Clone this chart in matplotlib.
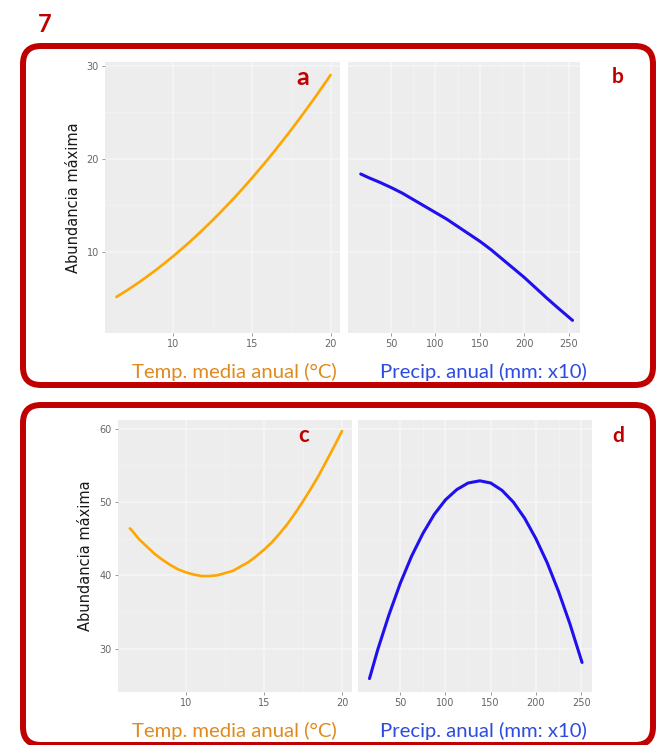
import numpy as np
import matplotlib.pyplot as plt
from matplotlib.patches import FancyBboxPatch

# Curvas ajustadas: abundancia máxima vs. temperatura y precipitación
temp_a = [6.4, 6.5, 7, 7.5, 8, 8.5, 9, 9.5, 10, 10.5, 11, 11.5, 12, 12.5, 13, 13.5,
          14, 14.5, 15, 15.5, 16, 16.5, 17, 17.5, 18, 18.5, 19, 19.5, 20]
abund_a = [5.12, 5.23, 5.76, 6.31, 6.90, 7.51, 8.14, 8.81, 9.50, 10.22, 10.96, 11.74,
           12.54, 13.36, 14.22, 15.10, 16.00, 16.94, 17.90, 18.89, 19.90, 20.95, 22.02,
           23.11, 24.24, 25.39, 26.56, 27.77, 29.0]

precip_b = [16, 25, 37.5, 50, 62.5, 75, 87.5, 100, 112.5, 125, 137.5, 150, 162.5,
            175, 187.5, 200, 212.5, 225, 237.5, 254]
abund_b = [18.35, 17.95, 17.45, 16.9, 16.3, 15.6, 14.9, 14.2, 13.5, 12.7, 11.9, 11.1,
           10.2, 9.2, 8.2, 7.2, 6.1, 5.0, 3.95, 2.6]

temp_c = [6.4, 6.5, 7, 7.5, 8, 8.5, 9, 9.5, 10, 10.5, 11, 11.5, 12, 12.5, 13, 13.5,
          14, 14.5, 15, 15.5, 16, 16.5, 17, 17.5, 18, 18.5, 19, 19.5, 20]
abund_c = [46.4, 46.2, 44.9, 43.9, 42.9, 42.1, 41.4, 40.8, 40.4, 40.1, 39.9, 39.9,
           40.0, 40.3, 40.6, 41.2, 41.8, 42.6, 43.5, 44.5, 45.7, 47.0, 48.5, 50.1,
           51.8, 53.6, 55.6, 57.6, 59.7]

precip_d = [16, 25, 37.5, 50, 62.5, 75, 87.5, 100, 112.5, 125, 138, 150, 162.5,
            175, 187.5, 200, 212.5, 225, 237.5, 251]
abund_d = [25.9, 29.8, 34.6, 38.9, 42.6, 45.7, 48.3, 50.3, 51.7, 52.6, 52.9, 52.6,
           51.6, 50.0, 47.8, 45.0, 41.7, 37.8, 33.4, 28.1]

ticks_temp = [10, 15, 20]
ticks_precip = [50, 100, 150, 200, 250]

ROJO = '#C00000'
NARANJA = '#E08A1E'
AZUL = '#2E4BE0'

W, H = 665, 745
fig = plt.figure(figsize=(W / 100, H / 100), dpi=100)


def panel(left, top, right, bottom):
    return fig.add_axes([left / W, 1 - bottom / H, (right - left) / W, (bottom - top) / H])


def estilo(ax, xlim, ylim, xticks, yticks, etiquetas_y=True):
    ax.set_facecolor('#EDEDED')
    for s in ax.spines.values():
        s.set_visible(False)
    ax.set_xlim(xlim)
    ax.set_ylim(ylim)
    ax.set_xticks(xticks)
    ax.set_yticks(yticks)
    ax.set_xticks([(a + b) / 2 for a, b in zip(xticks[:-1], xticks[1:])], minor=True)
    ax.set_yticks([(a + b) / 2 for a, b in zip(yticks[:-1], yticks[1:])], minor=True)
    ax.grid(True, which='major', color='white', lw=1.1, alpha=0.5)
    ax.grid(True, which='minor', color='white', lw=0.6, alpha=0.3)
    ax.set_axisbelow(True)
    ax.tick_params(which='major', length=2.5, width=0.6, color='#8a8a8a',
                   labelsize=7, labelcolor='#666666', pad=2)
    ax.tick_params(which='minor', length=0)
    if not etiquetas_y:
        ax.tick_params(axis='y', which='major', length=0, labelleft=False)


# fila superior (a, b)
ax_a = panel(105, 62, 340, 333)
ax_b = panel(348, 62, 580, 333)
# fila inferior (c, d)
ax_c = panel(118, 420, 352, 692)
ax_d = panel(358, 420, 592, 692)

estilo(ax_a, (5.67, 20.6), (1.24, 30.4), ticks_temp, [10, 20, 30])
estilo(ax_b, (1.7, 262.4), (1.24, 30.4), ticks_precip, [10, 20, 30], etiquetas_y=False)
estilo(ax_c, (5.64, 20.64), (24.07, 61.2), ticks_temp, [30, 40, 50, 60])
estilo(ax_d, (3.3, 262), (24.07, 61.2), ticks_precip, [30, 40, 50, 60], etiquetas_y=False)

ax_a.plot(temp_a, abund_a, color='#FFA500', lw=1.9, solid_capstyle='round')
ax_b.plot(precip_b, abund_b, color='#2010EE', lw=2.2, solid_capstyle='round')
ax_c.plot(temp_c, abund_c, color='#FFA500', lw=1.9, solid_capstyle='round')
ax_d.plot(precip_d, abund_d, color='#2010EE', lw=2.2, solid_capstyle='round')

# capa de anotaciones en coordenadas de pixel
ov = fig.add_axes([0, 0, 1, 1], zorder=5)
ov.set_xlim(0, W)
ov.set_ylim(H, 0)
ov.axis('off')
ov.patch.set_alpha(0)

for y0, y1 in [(46, 385), (405, 745)]:
    ov.add_patch(FancyBboxPatch((23, y0), 630, y1 - y0,
                                boxstyle='round,pad=0,rounding_size=18',
                                lw=4.3, ec=ROJO, fc='none'))

ov.text(44.5, 31.7, '7', fontsize=17, fontweight='bold', color=ROJO,
        family='Lato', ha='center', va='baseline')
for letra, x, y, fs in [('a', 303, 85, 18), ('b', 618, 83.3, 15),
                        ('c', 303.5, 442, 16), ('d', 618, 441.7, 15)]:
    ov.text(x, y, letra, fontsize=fs, fontweight='bold', color=ROJO,
            family='Lato', ha='center', va='baseline')

for yb in [378, 737]:
    ov.text(234.5, yb, 'Temp. media anual (°C)', fontsize=14.6, color=NARANJA,
            family='Lato', ha='center', va='baseline')
    ov.text(483, yb, 'Precip. anual (mm: x10)', fontsize=14.6, color=AZUL,
            family='Lato', ha='center', va='baseline')

ov.text(73, 197.5, 'Abundancia máxima', rotation=90, fontsize=10.5,
        color='#1a1a1a', family='DejaVu Sans', ha='center', va='center')
ov.text(85, 556, 'Abundancia máxima', rotation=90, fontsize=10.5,
        color='#1a1a1a', family='DejaVu Sans', ha='center', va='center')

fig.savefig('out.png', dpi=100)
